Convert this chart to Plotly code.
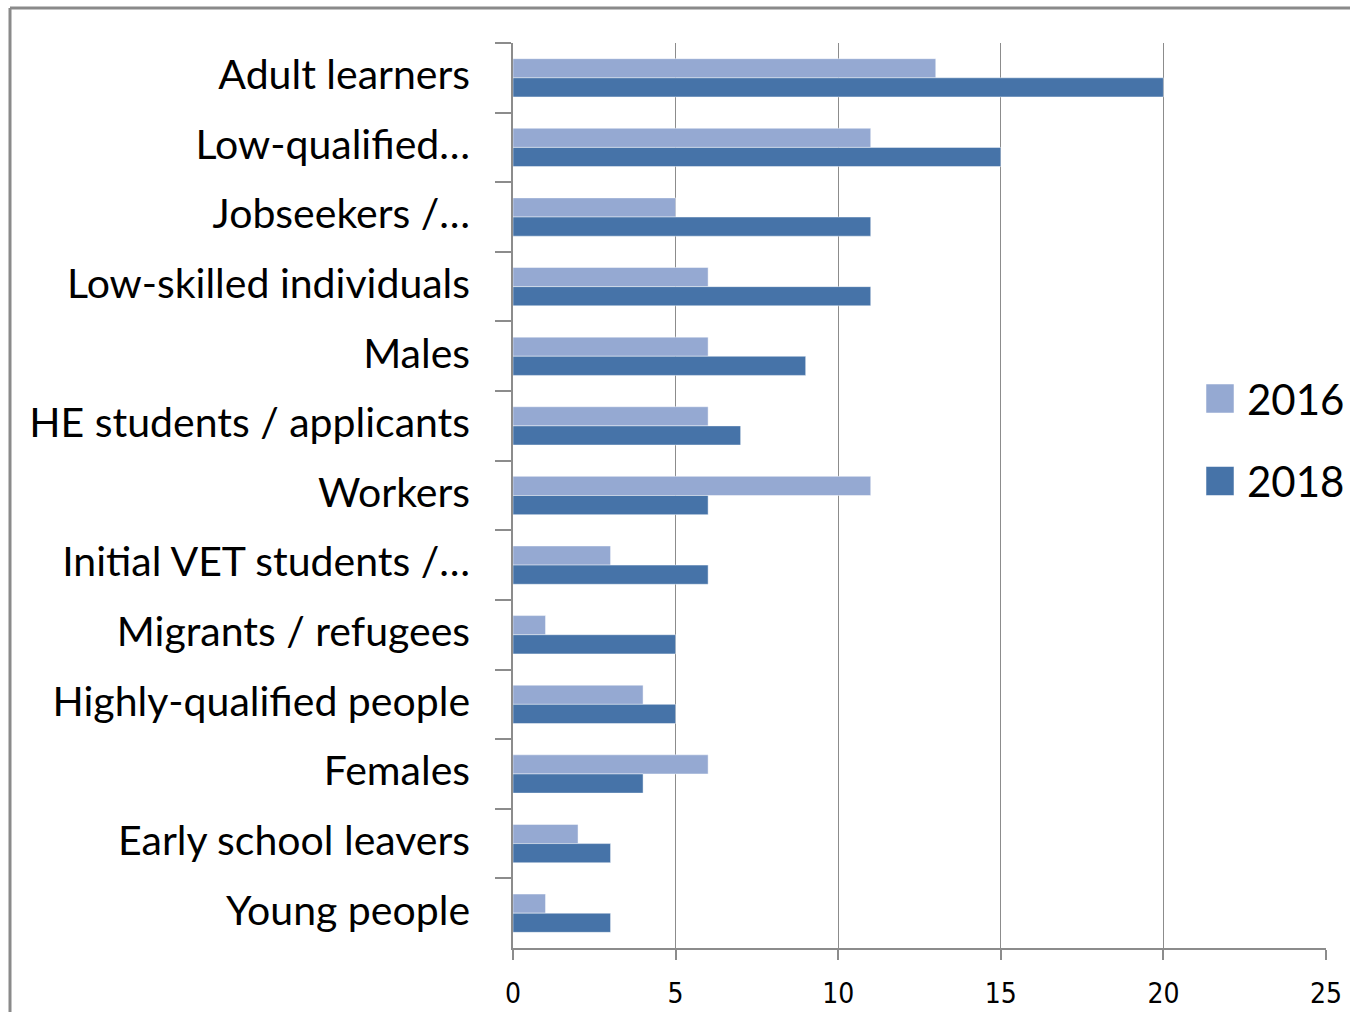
import plotly.graph_objects as go

# Target groups, listed top to bottom
categories = [
    "Adult learners",
    "Low-qualified…",
    "Jobseekers /…",
    "Low-skilled individuals",
    "Males",
    "HE students / applicants",
    "Workers",
    "Initial VET students /…",
    "Migrants / refugees",
    "Highly-qualified people",
    "Females",
    "Early school leavers",
    "Young people",
]
values_2016 = [13, 11, 5, 6, 6, 6, 11, 3, 1, 4, 6, 2, 1]
values_2018 = [20, 15, 11, 11, 9, 7, 6, 6, 5, 5, 4, 3, 3]
series_names = ["2016", "2018"]
x_ticks = [0, 5, 10, 15, 20, 25]

color_2016 = "#95A9D2"
color_2018 = "#4673A8"
grid_color = "#8C8C8C"
label_font = "Lato, Calibri, 'Noto Sans', sans-serif"

# Plot area in pixels
W, H = 1350, 1012
L, R, T, B = 513, 24, 43, 64
PW, PH = W - L - R, H - T - B


def px_x(x):
    return (x - L) / PW


def px_y(y):
    return (H - B - y) / PH


fig = go.Figure()
for name, vals, col in [(series_names[0], values_2016, color_2016),
                        (series_names[1], values_2018, color_2018)]:
    fig.add_trace(go.Bar(
        y=categories, x=vals, name=name, orientation="h",
        marker=dict(color=col, line=dict(color="rgba(255,255,255,0.45)", width=1)),
        showlegend=False,
    ))

fig.update_layout(
    width=W, height=H,
    margin=dict(l=L, r=R, t=T, b=B, autoexpand=False),
    paper_bgcolor="white", plot_bgcolor="white",
    barmode="group", bargap=0.45, bargroupgap=0,
    font=dict(family=label_font, color="black"),
)

fig.update_yaxes(
    type="category", autorange="reversed", automargin=False,
    showline=True, linecolor=grid_color, linewidth=1.5,
    ticks="outside", tickson="boundaries", ticklen=16, tickcolor=grid_color, tickwidth=1.5,
    tickfont=dict(size=41, family=label_font),
    ticklabelstandoff=33, ticklabelshift=3,
    showgrid=False,
)
fig.update_xaxes(
    range=[0, 25], tickvals=x_ticks, ticktext=[str(t) for t in x_ticks],
    automargin=False,
    showgrid=True, gridcolor=grid_color, gridwidth=1.2,
    showline=True, linecolor=grid_color, linewidth=1.5,
    ticks="outside", ticklen=10, tickcolor=grid_color, tickwidth=1.5,
    tickfont=dict(size=28, family="'Liberation Sans Narrow', 'DejaVu Sans Condensed', sans-serif"),
    ticklabelstandoff=10,
    zeroline=False,
)

# Legend drawn as swatches with labels on the right-hand side
legend_items = [(series_names[0], color_2016, 398.5), (series_names[1], color_2018, 481.0)]
for name, col, yc in legend_items:
    fig.add_shape(type="rect", xref="paper", yref="paper",
                  x0=px_x(1206), x1=px_x(1234),
                  y0=px_y(yc + 14.5), y1=px_y(yc - 14.5),
                  fillcolor=col, line=dict(color="rgba(255,255,255,0.5)", width=1), layer="above")
    fig.add_annotation(xref="paper", yref="paper", x=px_x(1245), y=px_y(yc),
                       text=name, showarrow=False, xanchor="left", yanchor="middle",
                       font=dict(size=42, family=label_font, color="black"))

# Outer chart frame
fig.add_shape(type="line", xref="paper", yref="paper",
              x0=px_x(10), x1=px_x(10), y0=px_y(H + 5), y1=px_y(8),
              line=dict(color="#8A8A8A", width=3))
fig.add_shape(type="line", xref="paper", yref="paper",
              x0=px_x(10), x1=px_x(W + 5), y0=px_y(8), y1=px_y(8),
              line=dict(color="#8A8A8A", width=3))

fig.write_html("out.html")
